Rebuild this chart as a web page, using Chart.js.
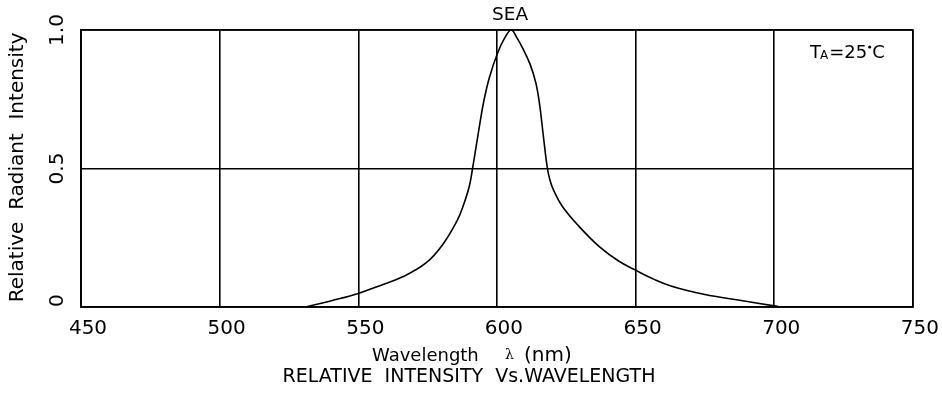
<!DOCTYPE html>
<html>
<head>
<meta charset="utf-8">
<script src="https://cdn.jsdelivr.net/npm/chart.js@4/dist/chart.umd.min.js"></script>
<style>
html,body{margin:0;padding:0;background:#fff;}
#wrap{width:942px;height:397px;position:relative;}
</style>
</head>
<body>
<div id="wrap"><canvas id="c" width="942" height="397"></canvas></div>
<script>
const wavelengths = [531, 540, 550, 558, 566, 574.4, 580.4, 585.8, 588, 590, 591.2, 592.5, 593.8, 595.2, 597.2, 600.2, 603, 605.2, 607, 609.5, 612, 614, 615.4, 616.7, 618.2, 619.2, 620.5, 623.6, 629.6, 636.8, 644, 650, 656, 663, 675, 687, 700, 702];
const intensity   = [0, 0.022, 0.049, 0.078, 0.109, 0.159, 0.225, 0.315, 0.37, 0.435, 0.5, 0.58, 0.66, 0.74, 0.826, 0.916, 0.975, 1.0, 0.975, 0.93, 0.875, 0.81, 0.73, 0.62, 0.5, 0.455, 0.42, 0.363, 0.291, 0.219, 0.165, 0.133, 0.103, 0.075, 0.045, 0.025, 0.004, 0];
const xTicks = [450, 500, 550, 600, 650, 700, 750];
const yTicks = [0, 0.5, 1.0];
const yTickLabels = ['0', '0.5', '1.0'];
const seriesName = 'SEA';
const xTitle = 'Wavelength';
const xUnit = '(nm)';
const yTitleWords = ['Relative', 'Radiant', 'Intensity'];
const subTitle = 'RELATIVE  INTENSITY  Vs.WAVELENGTH';

const FONT = "'DejaVu Sans', sans-serif";

const textPlugin = {
  id: 'texts',
  afterDraw(chart) {
    const ctx = chart.ctx;
    const ys = chart.scales.y;
    ctx.save();
    ctx.fillStyle = '#000';
    // y tick labels (rotated)
    ctx.font = '20px ' + FONT;
    yTicks.forEach((v, i) => {
      const py = ys.getPixelForValue(v);
      ctx.save();
      ctx.translate(58, py);
      ctx.rotate(-Math.PI / 2);
      ctx.textAlign = i === 0 ? 'left' : 'center';
      ctx.textBaseline = 'middle';
      ctx.fillText(yTickLabels[i], 0, 0);
      ctx.restore();
    });
    // y title, word by word
    ctx.font = '20px ' + FONT;
    const yWordCenters = [262, 171.5, 76];
    yTitleWords.forEach((wd, i) => {
      ctx.save();
      ctx.translate(18, yWordCenters[i]);
      ctx.rotate(-Math.PI / 2);
      ctx.textAlign = 'center';
      ctx.textBaseline = 'middle';
      ctx.fillText(wd, 0, 0);
      ctx.restore();
    });
    // series name above peak
    ctx.font = '18.5px ' + FONT;
    ctx.textAlign = 'center';
    ctx.textBaseline = 'middle';
    ctx.fillText(seriesName, 510, 15);
    // x title
    ctx.font = '18px ' + FONT;
    ctx.textAlign = 'left';
    ctx.fillText(xTitle, 372, 356);
    ctx.font = '14px "DejaVu Serif", serif';
    ctx.fillText('\u03BB', 505, 355);
    ctx.font = '20px ' + FONT;
    ctx.fillText(xUnit, 524, 356);
    // subtitle
    ctx.textAlign = 'center';
    ctx.font = '19px ' + FONT;
    ctx.fillText(subTitle, 469, 377);
    // T_A = 25°C
    ctx.textAlign = 'left';
    ctx.font = '18px ' + FONT;
    let tx = 810;
    ctx.fillText('T', tx, 53);
    tx += ctx.measureText('T').width - 1;
    ctx.font = '12px ' + FONT;
    ctx.fillText('A', tx, 56);
    tx += ctx.measureText('A').width + 1;
    ctx.font = '18px ' + FONT;
    ctx.fillText('=25', tx, 53);
    tx += ctx.measureText('=25').width;
    ctx.beginPath();
    ctx.arc(tx + 2.5, 47, 1.6, 0, Math.PI * 2);
    ctx.fill();
    ctx.fillText('C', tx + 5, 53);
    ctx.restore();
  }
};

new Chart(document.getElementById('c'), {
  type: 'line',
  data: {
    datasets: [{
      label: seriesName,
      data: wavelengths.map((w, i) => ({ x: w, y: intensity[i] })),
      borderColor: '#000',
      borderWidth: 1.6,
      pointRadius: 0,
      fill: false,
      tension: 0.4
    }]
  },
  options: {
    responsive: false,
    animation: false,
    events: [],
    layout: { padding: { left: 81, right: 28, top: 30, bottom: 46 } },
    plugins: { legend: { display: false }, tooltip: { enabled: false }, title: { display: false } },
    scales: {
      x: {
        type: 'linear',
        min: 450, max: 750,
        afterBuildTicks: s => { s.ticks = xTicks.map(v => ({ value: v })); },
        grid: { color: '#000', lineWidth: 1.6, drawTicks: false },
        border: { color: '#000', width: 1.6 },
        ticks: { color: '#000', font: { family: FONT, size: 20 }, padding: 10, labelOffset: 7, maxRotation: 0, autoSkip: false }
      },
      y: {
        type: 'linear',
        min: 0, max: 1,
        afterBuildTicks: s => { s.ticks = yTicks.map(v => ({ value: v })); },
        grid: { color: '#000', lineWidth: 1.6, drawTicks: false },
        border: { color: '#000', width: 1.6 },
        ticks: { display: false }
      }
    }
  },
  plugins: [textPlugin, {
    id: 'frame',
    afterDatasetsDraw(chart) {
      const a = chart.chartArea, ctx = chart.ctx;
      ctx.save();
      ctx.strokeStyle = '#000';
      ctx.lineWidth = 1.6;
      ctx.strokeRect(a.left, a.top, a.right - a.left, a.bottom - a.top);
      ctx.restore();
    }
  }]
});
</script>
</body>
</html>
